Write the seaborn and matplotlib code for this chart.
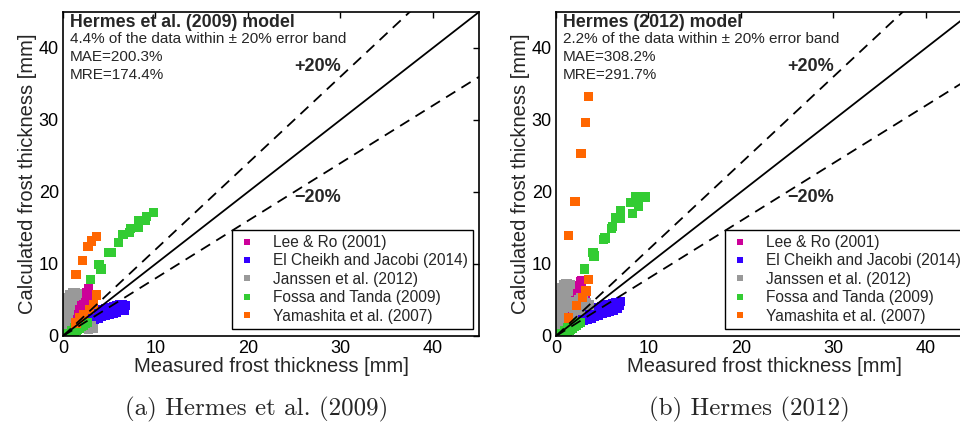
import pandas as pd
import matplotlib
matplotlib.use('Agg')
import matplotlib.pyplot as plt
import seaborn as sns

sns.set_style('white')
plt.rcParams['font.family'] = ['Liberation Sans', 'DejaVu Sans']

sources = ['Lee & Ro (2001)', 'El Cheikh and Jacobi (2014)', 'Janssen et al. (2012)',
           'Fossa and Tanda (2009)', 'Yamashita et al. (2007)']
colors = ['#CC0099', '#3300FF', '#999999', '#33CC33', '#FF6600']

# (a) Hermes et al. (2009) model
lee_a_x = [0.9, 1.1, 1.2, 1.4, 1.5, 1.7, 1.8, 2.0, 2.1, 2.3, 2.4, 2.6, 2.8, 2.9, 3.1, 1.6, 2.2, 2.7, 1.3, 2.5]
lee_a_y = [2.3, 2.8, 3.1, 3.7, 3.3, 4.4, 4.0, 5.0, 4.6, 5.2, 4.3, 6.0, 6.6, 5.5, 4.8, 2.6, 3.6, 3.9, 2.0, 3.2]
blue_a_x = [2.2, 2.5, 2.8, 3.1, 3.4, 3.7, 4.0, 4.3, 4.6, 4.9, 5.2, 5.5, 5.8, 6.1, 6.4, 6.7,
            2.6, 3.0, 3.4, 3.8, 4.2, 4.6, 5.0, 5.4, 5.8, 6.2, 6.6, 2.4, 3.3, 4.4, 5.6]
blue_a_y = [2.6, 2.8, 3.0, 3.1, 3.3, 3.4, 3.6, 3.7, 3.8, 3.9, 4.0, 4.1, 4.2, 4.3, 4.4, 4.2,
            1.9, 2.1, 2.3, 2.5, 2.7, 2.9, 3.0, 3.2, 3.3, 3.5, 3.6, 2.2, 2.6, 3.2, 3.7]
grey_a_x = [0.0, 0.05, 0.15, 0.25, 0.35, 0.5, 0.7, 1.0, 1.3, 1.6, 0.3, 0.5, 0.6, 0.7, 0.8, 1.0, 1.2,
            0.2, 0.35, 0.45, 0.55, 0.65, 0.9, 1.5, 0.5, 0.8, 1.2, 2.8, 3.1, 3.3]
grey_a_y = [0.5, 1.5, 2.5, 3.5, 4.5, 5.3, 5.8, 6.0, 6.0, 5.9, 0.5, 1.5, 2.5, 3.5, 4.3, 5.0, 5.5,
            1.0, 2.0, 3.0, 4.0, 4.8, 5.5, 5.6, 0.3, 0.7, 1.0, 0.9, 1.4, 1.0]
green_a_x = [0.2, 0.4, 0.6, 0.8, 1.0, 1.2, 1.4, 1.6, 1.8, 2.0, 2.2, 2.4, 2.6, 0.5, 0.9, 1.3, 1.7, 2.1,
             3.0, 3.9, 4.1, 4.9, 5.2, 6.0, 6.5, 7.2, 7.3, 8.2, 8.2, 8.9, 9.0, 9.8]
green_a_y = [0.1, 0.2, 0.3, 0.4, 0.5, 0.6, 0.8, 0.9, 1.1, 1.3, 1.5, 1.7, 1.9, 0.4, 0.8, 1.1, 1.5, 1.9,
             7.9, 9.9, 9.3, 11.6, 11.6, 13.0, 14.1, 14.4, 14.9, 15.1, 16.0, 16.0, 16.6, 17.1]
orange_a_x = [1.4, 2.1, 2.7, 3.1, 3.6, 3.6, 3.3, 2.9, 2.2, 1.8, 1.4]
orange_a_y = [8.5, 10.5, 12.4, 13.2, 13.8, 5.7, 4.4, 3.7, 3.0, 2.6, 1.8]

# (b) Hermes (2012) model
lee_b_x = [0.8, 1.0, 1.1, 1.3, 1.5, 1.7, 1.9, 2.1, 2.3, 2.5, 2.7, 2.8, 3.0, 3.2, 1.6, 2.0, 2.4, 1.2]
lee_b_y = [3.2, 3.7, 4.0, 4.4, 4.7, 5.0, 5.5, 5.9, 6.4, 7.0, 7.5, 7.7, 6.2, 5.6, 3.5, 4.2, 4.8, 3.0]
blue_b_x = [2.2, 2.5, 2.8, 3.1, 3.4, 3.7, 4.0, 4.3, 4.6, 4.9, 5.2, 5.5, 5.8, 6.1, 6.4, 6.7, 7.0,
            2.6, 3.0, 3.4, 3.8, 4.2, 4.6, 5.0, 5.4, 5.8, 6.2, 6.6, 2.4, 3.3, 4.4, 5.6, 6.9]
blue_b_y = [2.6, 2.8, 3.0, 3.2, 3.4, 3.5, 3.7, 3.8, 4.0, 4.1, 4.2, 4.3, 4.4, 4.5, 4.6, 4.7, 4.8,
            1.9, 2.1, 2.3, 2.5, 2.7, 2.9, 3.1, 3.3, 3.4, 3.6, 3.8, 2.2, 2.7, 3.3, 3.9, 4.3]
grey_b_x = [0.0, 0.05, 0.15, 0.25, 0.35, 0.45, 0.6, 0.8, 1.0, 1.2, 1.4, 1.6, 0.3, 0.5, 0.65, 0.8, 0.95,
            1.1, 1.3, 0.2, 0.4, 0.55, 0.7, 0.9, 1.5, 1.8, 2.1, 2.4, 2.7, 3.0, 3.3, 3.6, 1.4, 1.9, 2.6]
grey_b_y = [0.4, 1.4, 2.5, 3.6, 4.7, 5.8, 6.7, 7.2, 7.3, 7.3, 7.2, 7.1, 0.5, 1.5, 2.5, 3.5, 4.5,
            5.4, 6.2, 1.0, 2.0, 3.0, 4.0, 5.0, 4.0, 4.4, 4.8, 5.1, 5.3, 5.0, 4.6, 4.3, 2.6, 3.0, 3.6]
green_b_x = [0.2, 0.4, 0.6, 0.8, 1.0, 1.2, 1.4, 1.6, 1.8, 2.0, 2.2, 2.4, 2.6, 0.5, 0.9, 1.3, 1.7, 2.1,
             3.1, 4.0, 4.1, 5.1, 5.3, 6.0, 6.1, 6.5, 7.0, 7.0, 8.1, 8.3, 8.65, 8.9, 9.7]
green_b_y = [0.1, 0.2, 0.3, 0.4, 0.5, 0.6, 0.8, 0.9, 1.1, 1.3, 1.5, 1.7, 1.9, 0.4, 0.8, 1.1, 1.5, 1.9,
             9.3, 11.6, 11.1, 13.4, 13.6, 14.9, 15.2, 16.5, 17.4, 16.3, 18.5, 17.0, 19.3, 18.0, 19.3]
orange_b_x = [1.35, 2.05, 2.7, 3.15, 3.55, 3.55, 3.25, 2.85, 2.2, 1.35]
orange_b_y = [14.0, 18.7, 25.4, 29.7, 33.3, 7.9, 6.25, 5.3, 4.2, 2.5]

panels = [
    {'xs': [lee_a_x, blue_a_x, grey_a_x, green_a_x, orange_a_x],
     'ys': [lee_a_y, blue_a_y, grey_a_y, green_a_y, orange_a_y],
     'title': 'Hermes et al. (2009) model',
     'stats': ['4.4% of the data within \u00b1 20% error band', 'MAE=200.3%', 'MRE=174.4%'],
     'caption': '(a) Hermes et al. (2009)'},
    {'xs': [lee_b_x, blue_b_x, grey_b_x, green_b_x, orange_b_x],
     'ys': [lee_b_y, blue_b_y, grey_b_y, green_b_y, orange_b_y],
     'title': 'Hermes (2012) model',
     'stats': ['2.2% of the data within \u00b1 20% error band', 'MAE=308.2%', 'MRE=291.7%'],
     'caption': '(b) Hermes (2012)'},
]

fig = plt.figure(figsize=(9.6, 4.3), dpi=100)
lefts = [63 / 960, 556 / 960]
cap_x = [0.267, 0.781]

for i, p in enumerate(panels):
    ax = fig.add_axes([lefts[i], 94 / 430, 416 / 960, 324 / 430])
    rows = []
    for src, xs, ys in zip(sources, p['xs'], p['ys']):
        for x, y in zip(xs, ys):
            rows.append({'Measured': x, 'Calculated': y, 'Source': src})
    df = pd.DataFrame(rows)

    # reference and +/-20% lines
    ax.plot([0, 45], [0, 45], color='black', lw=1.3, zorder=3)
    ax.plot([0, 45], [0, 54], color='black', lw=1.3, ls=(0, (6, 4)), zorder=3)
    ax.plot([0, 45], [0, 36], color='black', lw=1.3, ls=(0, (6, 4)), zorder=3)

    sns.scatterplot(data=df, x='Measured', y='Calculated', hue='Source', hue_order=sources,
                    palette=dict(zip(sources, colors)), marker='s', s=44, linewidth=0,
                    ax=ax, zorder=2)

    ax.set_xlim(0, 45)
    ax.set_ylim(0, 45)
    ax.set_xticks([0, 10, 20, 30, 40])
    ax.set_yticks([0, 10, 20, 30, 40])
    ax.tick_params(direction='in', top=True, right=True, length=4, width=1,
                   labelsize=13, pad=3, colors='black')
    for sp in ax.spines.values():
        sp.set_color('black')
        sp.set_linewidth(1.2)
    ax.set_xlabel('Measured frost thickness [mm]', fontsize=14.5, labelpad=0)
    ax.set_ylabel('Calculated frost thickness [mm]', fontsize=14.5, labelpad=1)

    ax.text(0.017, 0.994, p['title'], transform=ax.transAxes, fontsize=12.8,
            fontweight='bold', va='top', ha='left')
    for k, line in enumerate(p['stats']):
        ax.text(0.017, 0.937 - k * 0.055, line, transform=ax.transAxes, fontsize=11,
                va='top', ha='left')
    ax.text(27.5, 37.4, '+20%', fontsize=13, fontweight='bold', ha='center', va='center')
    ax.text(27.5, 19.3, '\u221220%', fontsize=13, fontweight='bold', ha='center', va='center')

    handles, labels = ax.get_legend_handles_labels()
    leg = ax.legend(handles, labels, loc='lower right', bbox_to_anchor=(0.986, 0.022),
                    borderaxespad=0, fontsize=11.2, markerscale=0.75, handlelength=1.2,
                    handletextpad=1.1, labelspacing=0.22, borderpad=0.33,
                    fancybox=False, framealpha=1, edgecolor='black')
    leg.get_frame().set_linewidth(1.0)

    fig.text(cap_x[i], 0.047, p['caption'], ha='center', va='center', fontsize=18,
             family=['cmr10', 'DejaVu Serif'])

fig.savefig('out.png', dpi=100)
